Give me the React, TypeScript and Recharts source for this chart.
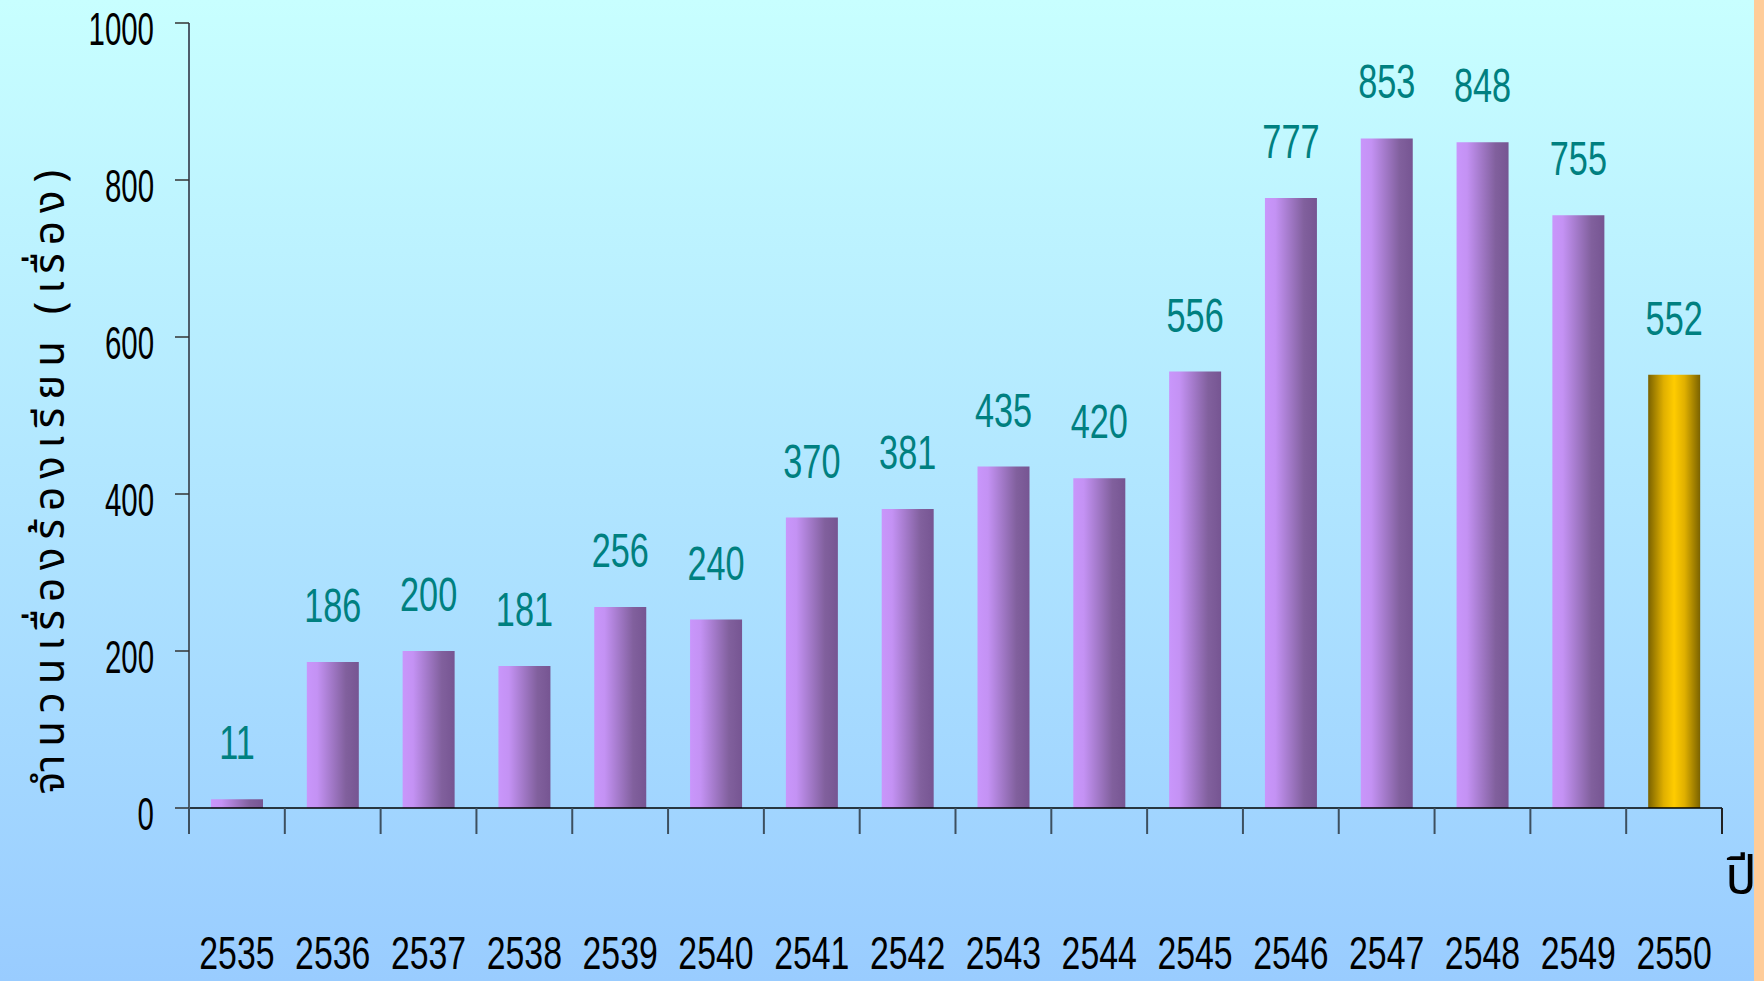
import React from 'react';
import { BarChart, Bar, XAxis, YAxis, Cell, LabelList } from 'recharts';

// ข้อมูลจำนวนเรื่องร้องเรียนรายปี
const years = ['2535', '2536', '2537', '2538', '2539', '2540', '2541', '2542', '2543', '2544', '2545', '2546', '2547', '2548', '2549', '2550'];
const complaints = [11, 186, 200, 181, 256, 240, 370, 381, 435, 420, 556, 777, 853, 848, 755, 552];
const yTicks = [0, 200, 400, 600, 800, 1000];
const yTitle = 'จำนวนเรื่องร้องเรียน (เรื่อง)';
const xTitle = 'ปี';

const data = years.map((year, i) => ({ year, value: complaints[i] }));

const W = 1764;
const H = 981;
const M = { top: 23, right: 42, bottom: 0, left: 0 };
const Y_W = 189;
const X_H = 173;
const band = (W - M.left - M.right - Y_W) / years.length;

const numFont = '"Liberation Sans", Arial, sans-serif';
const thaiFont = '"Noto Sans Thai", Tahoma, "DejaVu Sans", sans-serif';

const XTick = (props: any) => {
  const { x, y, payload } = props;
  const idx = years.indexOf(payload.value);
  const last = idx === years.length - 1;
  return (
    <g>
      <line x1={x - band / 2} x2={x - band / 2} y1={y} y2={y + 26} stroke="#3d4f5f" strokeWidth={2} />
      {last && <line x1={x + band / 2} x2={x + band / 2} y1={y} y2={y + 26} stroke="#222" strokeWidth={2} />}
      <g transform={`translate(${x},${y + 161})`}>
        <text transform="scale(0.72,1)" textAnchor="middle" fontSize={47} fontFamily={numFont} fill="#000">
          {payload.value}
        </text>
      </g>
    </g>
  );
};

const YTick = (props: any) => {
  const { x, y, payload } = props;
  return (
    <g transform={`translate(${x},${y + 22})`}>
      <text transform="scale(0.64,1)" textAnchor="end" fontSize={46} fontFamily={numFont} fill="#000">
        {payload.value}
      </text>
    </g>
  );
};

const ValueLabel = (props: any) => {
  const x = Number(props.x) + Number(props.width) / 2;
  const y = Number(props.y) - 40;
  return (
    <g transform={`translate(${x},${y})`}>
      <text transform="scale(0.7,1)" textAnchor="middle" fontSize={49} fontFamily={numFont} fill="#008080">
        {props.value}
      </text>
    </g>
  );
};

export default function App() {
  return (
    <div style={{ position: 'fixed', left: 0, top: 0, width: W, height: H, background: 'linear-gradient(to bottom, #c8ffff 0%, #99ccff 100%)' }}>
      {/* แถบสีส้มด้านขวา */}
      <div style={{ position: 'absolute', left: 1754, top: 0, width: 10, height: H, background: '#ffcc99' }} />
      <BarChart width={W} height={H} data={data} margin={M}>
        <defs>
          <linearGradient id="purple" x1="0" y1="0" x2="1" y2="0">
            <stop offset="0%" stopColor="#c996fb" />
            <stop offset="20%" stopColor="#c492f4" />
            <stop offset="75%" stopColor="#81609d" />
            <stop offset="100%" stopColor="#765592" />
          </linearGradient>
          <linearGradient id="gold" x1="0" y1="0" x2="1" y2="0">
            <stop offset="0%" stopColor="#7a6200" />
            <stop offset="30%" stopColor="#e0b000" />
            <stop offset="50%" stopColor="#ffcc00" />
            <stop offset="70%" stopColor="#e0b000" />
            <stop offset="100%" stopColor="#7a6200" />
          </linearGradient>
        </defs>
        <XAxis
          dataKey="year"
          height={X_H}
          tickSize={0}
          tickMargin={0}
          tickLine={false}
          interval={0}
          axisLine={{ stroke: '#000', strokeWidth: 1.5 }}
          tick={<XTick />}
          label={{
            content: () => (
              <text x={1741} y={893} textAnchor="middle" fontSize={52} fontFamily={thaiFont} fill="#000">
                {xTitle}
              </text>
            ),
          }}
        />
        <YAxis
          width={Y_W}
          domain={[0, 1000]}
          ticks={yTicks}
          tickSize={14}
          tickMargin={21}
          tickLine={{ stroke: '#333', strokeWidth: 1.5 }}
          axisLine={{ stroke: '#4d5d6b', strokeWidth: 2 }}
          tick={<YTick />}
          label={{
            content: () => (
              <text transform="translate(64,478) rotate(-90)" textAnchor="middle" fontSize={42} letterSpacing={8} fontFamily={thaiFont} fill="#000">
                {yTitle}
              </text>
            ),
          }}
        />
        <Bar dataKey="value" barSize={52} fill="url(#purple)" isAnimationActive={false}>
          {data.map((d, i) => (
            <Cell key={d.year} fill={i === data.length - 1 ? 'url(#gold)' : 'url(#purple)'} />
          ))}
          <LabelList dataKey="value" content={<ValueLabel />} />
        </Bar>
      </BarChart>
    </div>
  );
}
